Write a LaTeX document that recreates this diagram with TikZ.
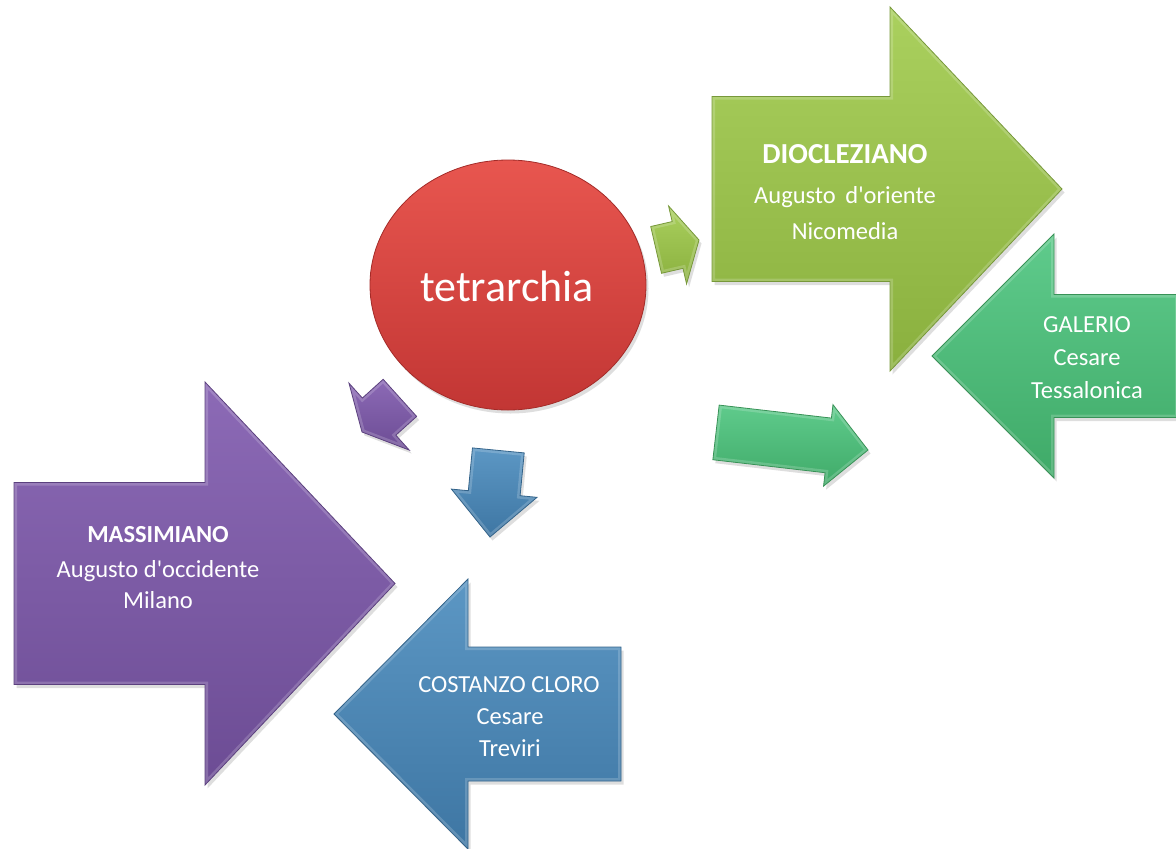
\documentclass[tikz,border=0pt]{standalone}
\usepackage{fontspec}
\setmainfont{Carlito}[Ligatures=TeXOff]
\usetikzlibrary{shapes.geometric}
\definecolor{dgT}{HTML}{AAD05E}
\definecolor{dgB}{HTML}{8AB03E}
\definecolor{dgE}{HTML}{77983A}
\definecolor{ggT}{HTML}{5FCB8C}
\definecolor{ggB}{HTML}{3FAA68}
\definecolor{ggE}{HTML}{389257}
\definecolor{ppT}{HTML}{8C6AB6}
\definecolor{ppB}{HTML}{6C4C94}
\definecolor{ppE}{HTML}{5B407E}
\definecolor{bbT}{HTML}{5C97C4}
\definecolor{bbB}{HTML}{3E76A3}
\definecolor{bbE}{HTML}{33638A}
\definecolor{rrT}{HTML}{E8564F}
\definecolor{rrB}{HTML}{C23634}
\definecolor{rrE}{HTML}{A32B28}
% #1 name, #2 tip, #3 angle, #4 body length, #5 head length, #6 body half width, #7 head half width, #8 colour prefix
\newcommand{\blockarr}[8]{%
  \def\arrpoly{({-(#5)-(#4)},#6) -- ({-(#5)},#6) -- ({-(#5)},#7) -- (0,0) -- ({-(#5)},{-(#7)}) -- ({-(#5)},{-(#6)}) -- ({-(#5)-(#4)},{-(#6)}) -- cycle}%
  \begin{scope}[shift={#2},xshift=2.5pt,yshift=-3.5pt,rotate=#3]
    \fill[black,opacity=0.13] \arrpoly;
  \end{scope}
  \begin{scope}[shift={#2},rotate=#3]
    \shade[top color=#8T,bottom color=#8B] \arrpoly;
    \begin{scope}
      \clip \arrpoly;
      \draw[white,opacity=0.18,line width=6pt,line join=miter] \arrpoly;
    \end{scope}
    \draw[#8E,line width=0.8pt,line join=miter] \arrpoly;
  \end{scope}}
\tikzset{
  lbl/.style={text=white,inner sep=0pt,anchor=base,font=\fontsize{24.5}{29}\selectfont},
  lblb/.style={lbl,font=\fontsize{24.5}{29}\selectfont\bfseries},
  lbldb/.style={lbl,font=\fontsize{29}{34}\selectfont\bfseries}
}
\begin{document}
\begin{tikzpicture}[x=1pt,y=-1pt]
\useasboundingbox (0,0) rectangle (1176,849);
% big arrows
\blockarr{dio}{(1062,189)}{0}{178}{172}{92.5}{182}{dg}
\blockarr{gal}{(932,356)}{180}{124}{122}{61.5}{122}{gg}
\blockarr{mas}{(395,583.5)}{0}{191}{190}{101}{201.5}{pp}
\blockarr{cos}{(334,714)}{180}{153}{134}{67}{135}{bb}
% small arrows
\blockarr{sg}{(699,240)}{13}{22}{22}{24}{40}{dg}
\blockarr{sp}{(362,432)}{222}{28}{23}{25}{45}{pp}
\blockarr{sb}{(490,537)}{264.5}{43}{44}{26}{43}{bb}
\blockarr{mg}{(868,450)}{-6.6}{113}{40}{27.5}{41}{gg}
% central ellipse
\fill[black,opacity=0.13] (510.5,288.5) ellipse [x radius=138pt, y radius=125pt];
\node[ellipse,minimum width=276pt,minimum height=250pt,inner sep=0pt,
      top color=rrT,bottom color=rrB,draw=rrE,line width=0.8pt] (tet) at (508,285) {};
\node[text=white,inner sep=0pt,anchor=base,font=\fontsize{44}{50}\selectfont] (tett) at (507,301) {tetrarchia};
% labels
\node[lbldb] (d1) at (845,163) {DIOCLEZIANO};
\node[lbl]  (d2) at (845,203) {Augusto\, d'oriente};
\node[lbl]  (d3) at (845,239) {Nicomedia};
\node[lbl]  (g1) at (1087,332) {GALERIO};
\node[lbl]  (g2) at (1087,365) {Cesare};
\node[lbl]  (g3) at (1087,398) {Tessalonica};
\node[lblb] (m1) at (158,542) {MASSIMIANO};
\node[lbl]  (m2) at (158,577) {Augusto d'occidente};
\node[lbl]  (m3) at (158,608) {Milano};
\node[lbl]  (c1) at (509,692) {COSTANZO CLORO};
\node[lbl]  (c2) at (510,724) {Cesare};
\node[lbl]  (c3) at (510,756) {Treviri};
\end{tikzpicture}
\end{document}
